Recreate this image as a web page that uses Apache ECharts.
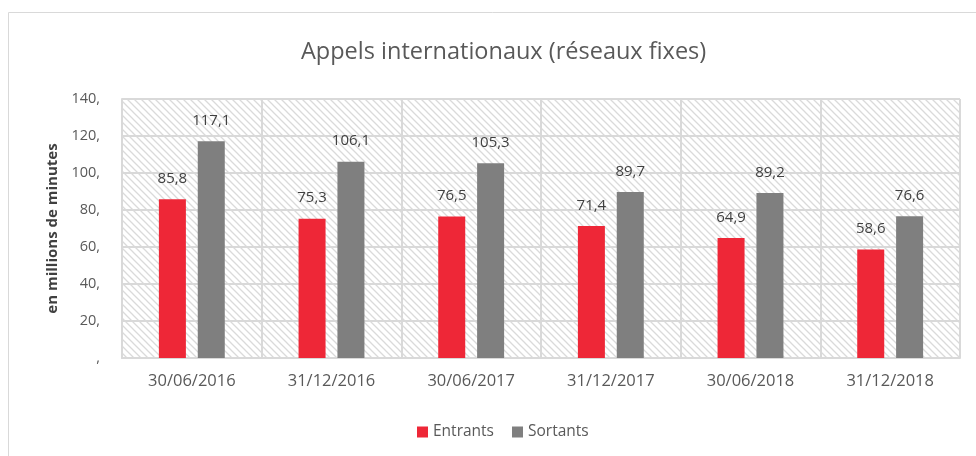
<!DOCTYPE html>
<html>
<head>
<meta charset="utf-8">
<script src="https://cdn.jsdelivr.net/npm/echarts@6/dist/echarts.min.js"></script>
<style>
  html, body { margin: 0; padding: 0; background: #fff; }
  #chart { width: 976px; height: 456px; }
</style>
</head>
<body>
<div id="chart"></div>
<script>
const categories = ['30/06/2016', '31/12/2016', '30/06/2017', '31/12/2017', '30/06/2018', '31/12/2018'];
const entrants = [85.8, 75.3, 76.5, 71.4, 64.9, 58.6];
const sortants = [117.1, 106.1, 105.3, 89.7, 89.2, 76.6];

const fontFamily = 'Open Sans';

// diagonal hatch used by the plot background
function hatch() {
    const c = document.createElement('canvas');
    c.width = 7;
    c.height = 7;
    const ctx = c.getContext('2d');
    ctx.fillStyle = '#ffffff';
    ctx.fillRect(0, 0, 7, 7);
    ctx.strokeStyle = '#dadada';
    ctx.lineWidth = 1.3;
    ctx.beginPath();
    ctx.moveTo(-1, -1); ctx.lineTo(8, 8);
    ctx.moveTo(-1, 6); ctx.lineTo(1, 8);
    ctx.moveTo(6, -1); ctx.lineTo(8, 1);
    ctx.stroke();
    return c;
}

const fmt = v => (v === 0 ? ',' : v + ',');
const valueLabel = p => String(p.value).replace('.', ',');

const chart = echarts.init(document.getElementById('chart'));

chart.setOption({
    animation: false,
    title: {
        text: 'Appels internationaux (réseaux fixes)',
        left: 296,
        top: 35,
        textStyle: { fontFamily, fontSize: 23.5, fontWeight: 'normal', color: '#595959' }
    },
    graphic: [{
        type: 'rect',
        shape: { x: 8.5, y: 12.5, width: 1000, height: 500 },
        style: { fill: 'none', stroke: '#d9d9d9', lineWidth: 1 },
        silent: true
    }],
    legend: {
        bottom: 11,
        left: 412,
        itemWidth: 11,
        itemHeight: 11,
        itemGap: 18,
        icon: 'rect',
        textStyle: { fontFamily, fontSize: 15.5, color: '#595959' },
        data: ['Entrants', 'Sortants']
    },
    grid: {
        left: 122,
        right: 16,
        top: 99,
        bottom: 98,
        show: true,
        borderWidth: 0,
        backgroundColor: { image: hatch(), repeat: 'repeat' }
    },
    xAxis: {
        type: 'category',
        data: categories,
        axisLine: { lineStyle: { color: '#d9d9d9', width: 2 } },
        axisTick: { show: false },
        splitLine: { show: true, lineStyle: { color: '#d9d9d9', width: 2 } },
        axisLabel: { fontFamily, fontSize: 16.5, color: '#595959', margin: 15 }
    },
    yAxis: {
        type: 'value',
        min: 0,
        max: 140,
        interval: 20,
        name: 'en millions de minutes',
        nameLocation: 'middle',
        nameGap: 62,
        nameTextStyle: { fontFamily, fontSize: 15, fontWeight: 'bold', color: '#404040' },
        axisLine: { show: true, lineStyle: { color: '#d9d9d9', width: 2 } },
        axisTick: { show: false },
        splitLine: { lineStyle: { color: '#d9d9d9', width: 2 } },
        axisLabel: { fontFamily, fontSize: 14.5, color: '#595959', margin: 22, formatter: fmt }
    },
    series: [
        {
            name: 'Entrants',
            type: 'bar',
            data: entrants,
            barWidth: 27,
            barGap: '44%',
            itemStyle: { color: '#ee2737' },
            label: { show: true, position: 'top', distance: 13, fontFamily, fontSize: 15, color: '#404040', formatter: valueLabel }
        },
        {
            name: 'Sortants',
            type: 'bar',
            data: sortants,
            barWidth: 27,
            itemStyle: { color: '#7f7f7f' },
            label: { show: true, position: 'top', distance: 13, fontFamily, fontSize: 15, color: '#404040', formatter: valueLabel }
        }
    ]
});
</script>
</body>
</html>
